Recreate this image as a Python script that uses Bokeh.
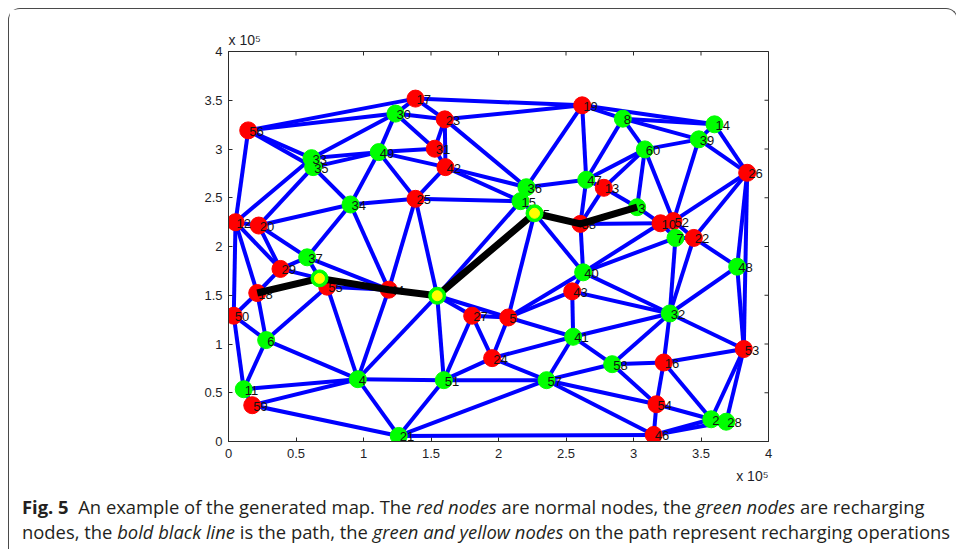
import math
from bokeh.plotting import figure
from bokeh.models import ColumnDataSource, FixedTicker, Title, Div, Range1d
from bokeh.layouts import column
from bokeh.embed import file_html
from bokeh.resources import INLINE
from bokeh.core.properties import value

# ---------------- data ----------------
node_ids = list(range(1, 61))
node_x = [67400, 357600, 302700, 95800, 207200, 27900, 331100, 292100, 154600, 320000,
          11300, 5200, 278000, 360000, 216300, 322400, 138500, 21300, 262000, 22400,
          126100, 344700, 160200, 195300, 138500, 384200, 180500, 368700, 38500, 123700,
          152800, 326900, 61500, 90400, 62700, 220700, 58300, 260700, 348400, 262700,
          255300, 160700, 254600, 118700, 226700, 315000, 265000, 376800, 111300, 3900,
          159500, 329600, 381700, 317000, 73100, 14600, 235600, 284200, 17600, 308400]
node_y = [167300, 22800, 240300, 63900, 127200, 104000, 208800, 331100, 149500, 223800,
          53600, 224900, 260200, 325300, 246500, 81000, 351700, 152300, 344800, 221500,
          5700, 208800, 330400, 85500, 248900, 275600, 129000, 20300, 177000, 336300,
          300300, 131300, 290600, 243100, 281400, 260800, 188900, 223200, 309900, 173500,
          107400, 281400, 154000, 155700, 234100, 6700, 268400, 179300, 296800, 129000,
          62900, 226100, 94800, 38200, 158800, 319100, 62900, 79300, 37200, 299600]
# r = normal node, g = recharging node, y = recharging operation on path
node_type = ["y", "g", "g", "g", "r", "g", "g", "g", "y", "r",
             "g", "r", "r", "g", "g", "r", "r", "r", "r", "r",
             "g", "r", "r", "r", "r", "r", "r", "g", "r", "g",
             "r", "g", "g", "g", "g", "g", "g", "r", "g", "g",
             "g", "r", "r", "r", "y", "r", "g", "g", "g", "r",
             "g", "r", "r", "r", "r", "r", "g", "g", "r", "g"]

edges = [
    (56, 17), (56, 30), (56, 33), (56, 35), (56, 12),
    (30, 17), (30, 23), (30, 31), (30, 49), (30, 33),
    (17, 23), (17, 19),
    (23, 19), (23, 31), (23, 42), (23, 36),
    (31, 49), (31, 42),
    (42, 49), (42, 25), (42, 36), (42, 15),
    (49, 33), (49, 35), (49, 34), (49, 25),
    (33, 12), (35, 20), (35, 34),
    (12, 20), (12, 50), (12, 18), (12, 29),
    (20, 29), (20, 37), (20, 34),
    (34, 25), (34, 37), (34, 44),
    (25, 15), (25, 44), (25, 9),
    (37, 29), (37, 1), (37, 44),
    (29, 18), (29, 1),
    (18, 1), (18, 50), (18, 6),
    (50, 6), (50, 11),
    (6, 11), (6, 55), (6, 4),
    (55, 1), (55, 4), (55, 44),
    (1, 44),
    (44, 9), (44, 4),
    (9, 45), (9, 15), (9, 27), (9, 5), (9, 51), (9, 4),
    (15, 36), (15, 45),
    (36, 19), (36, 47),
    (45, 38), (45, 40), (45, 5),
    (38, 3), (38, 47), (38, 13), (38, 10), (38, 40),
    (47, 19), (47, 8), (47, 60), (47, 13),
    (13, 60), (13, 3),
    (3, 60), (3, 10),
    (60, 8), (60, 39), (60, 52),
    (8, 19), (8, 14), (8, 39),
    (19, 14),
    (14, 39), (14, 26),
    (39, 26), (39, 52),
    (26, 52), (26, 22), (26, 48), (26, 53),
    (10, 52), (10, 40), (10, 7),
    (52, 7), (52, 22),
    (7, 22), (7, 40), (7, 32),
    (22, 48), (22, 32),
    (48, 32), (48, 53),
    (40, 43), (40, 32), (40, 5),
    (43, 5), (43, 32), (43, 41),
    (41, 5), (41, 32), (41, 58), (41, 57), (41, 24),
    (27, 5), (27, 51), (27, 24),
    (5, 24),
    (24, 51), (24, 57),
    (51, 57), (51, 4), (51, 21),
    (57, 21), (57, 58), (57, 54), (57, 46),
    (58, 32), (58, 16), (58, 54),
    (16, 32), (16, 53), (16, 54), (16, 2),
    (53, 32), (53, 2), (53, 28),
    (54, 46), (54, 2),
    (2, 46), (2, 28), (28, 46),
    (46, 21),
    (21, 4), (21, 59),
    (4, 11), (4, 59),
    (11, 59),
]

path_nodes = [18, 1, 44, 9, 45, 38, 3]

x_ticks = [0, 50000, 100000, 150000, 200000, 250000, 300000, 350000, 400000]
x_tick_labels = ["0", "0.5", "1", "1.5", "2", "2.5", "3", "3.5", "4"]
y_ticks = [0, 50000, 100000, 150000, 200000, 250000, 300000, 350000, 400000]
y_tick_labels = ["0", "0.5", "1", "1.5", "2", "2.5", "3", "3.5", "4"]
x_max = 400000
y_max = 400000

# ---------------- figure ----------------
idx = {n: i for i, n in enumerate(node_ids)}

p = figure(width=938, height=482, output_backend="svg", toolbar_location=None,
           x_range=Range1d(0, x_max), y_range=Range1d(0, y_max),
           min_border_left=219, min_border_right=179, min_border_top=42, min_border_bottom=50)
p.background_fill_color = "white"
p.border_fill_color = "white"
p.outline_line_color = "#2b2b2b"
p.outline_line_width = 1
p.grid.visible = False

AX_FONT = "Liberation Sans"
LBL_COL = "#1e1e28"
AX_COL = "#2b2b2b"

def style_axis(ax, ticks, labels):
    ax.ticker = FixedTicker(ticks=ticks)
    ax.major_label_overrides = {t: l for t, l in zip(ticks, labels)}
    ax.minor_tick_line_color = None
    ax.major_tick_in = 4
    ax.major_tick_out = 0
    ax.axis_line_color = AX_COL
    ax.major_tick_line_color = AX_COL
    ax.major_label_text_font = AX_FONT
    ax.major_label_text_color = LBL_COL
    ax.major_label_text_font_size = "13px"
    ax.major_label_standoff = 6

style_axis(p.xaxis[0], x_ticks, x_tick_labels)
style_axis(p.yaxis[0], y_ticks, y_tick_labels)
p.xaxis[0].major_label_standoff = 7

# tick marks on the top and right edges of the box (half of each dash is clipped by the frame)
p.scatter(x=x_ticks, y=[y_max] * len(x_ticks), marker="dash", size=8, angle=math.pi / 2,
          line_color=AX_COL, line_width=1)
p.scatter(x=[x_max] * len(y_ticks), y=y_ticks, marker="dash", size=8,
          line_color=AX_COL, line_width=1)

# edges
edge_src = ColumnDataSource(dict(
    x0=[node_x[idx[a]] for a, b in edges], y0=[node_y[idx[a]] for a, b in edges],
    x1=[node_x[idx[b]] for a, b in edges], y1=[node_y[idx[b]] for a, b in edges]))
p.segment("x0", "y0", "x1", "y1", source=edge_src, line_color="#0000ff", line_width=4)

def nodes_of(t):
    sel = [i for i, k in enumerate(node_type) if k == t]
    return ColumnDataSource(dict(x=[node_x[i] for i in sel], y=[node_y[i] for i in sel],
                                 label=[str(node_ids[i]) for i in sel]))

red_src = nodes_of("r")
green_src = nodes_of("g")
yel_src = nodes_of("y")

p.scatter("x", "y", source=red_src, size=17, fill_color="#ff0000", line_color="#ff0000")
p.scatter("x", "y", source=green_src, size=17, fill_color="#00ff00", line_color="#00ff00")

all_src = ColumnDataSource(dict(x=node_x, y=node_y, label=[str(n) for n in node_ids]))
p.text("x", "y", text="label", source=all_src, text_font=value(AX_FONT),
       text_font_size="13px", text_color="#111111", text_align="left",
       text_baseline="middle", x_offset=1, y_offset=1)

# path
path_src = ColumnDataSource(dict(x=[node_x[idx[n]] for n in path_nodes],
                                 y=[node_y[idx[n]] for n in path_nodes]))
p.line("x", "y", source=path_src, line_color="black", line_width=7, line_join="round")

p.scatter("x", "y", source=yel_src, size=17, fill_color="#00ff00", line_color="#00ff00")
p.scatter("x", "y", source=yel_src, size=10, fill_color="#ffff00", line_color="#ffff00")

# exponent labels (MATLAB style "x 10^5")
p.title.text = "x 10\u2075"
p.title.align = "left"
p.title.text_font = AX_FONT
p.title.text_font_size = "14px"
p.title.text_font_style = "normal"
p.title.text_color = LBL_COL
p.title.standoff = 7
p.title.offset = 0

p.add_layout(Title(text="x 10\u2075", align="right", text_font=AX_FONT, text_font_size="14px",
                   text_font_style="normal", text_color=LBL_COL, standoff=10), "below")

caption_html = (
    '<div style="font-family:\'Open Sans\',sans-serif;font-size:18.4px;line-height:25px;'
    'color:#231f20;padding-left:8px;position:relative;top:-2px;white-space:nowrap;">'
    '<b>Fig. 5</b>&nbsp; An example of the generated map. The <i>red nodes</i> are normal nodes, '
    'the <i>green nodes</i> are recharging<br>'
    'nodes, the <i>bold black line</i> is the path, the <i>green and yellow nodes</i> on the path '
    'represent recharging operations</div>'
)
cap = Div(text=caption_html, width=938, height=48)

layout = column(p, cap, styles={"margin": "8px 0 0 8px",
                                "border-top": "1px solid #4a4a4a",
                                "border-left": "1px solid #4a4a4a",
                                "border-right": "1px solid #4a4a4a",
                                "border-radius": "12px 12px 0 0"})

open("out.html", "w").write(file_html(layout, INLINE))
